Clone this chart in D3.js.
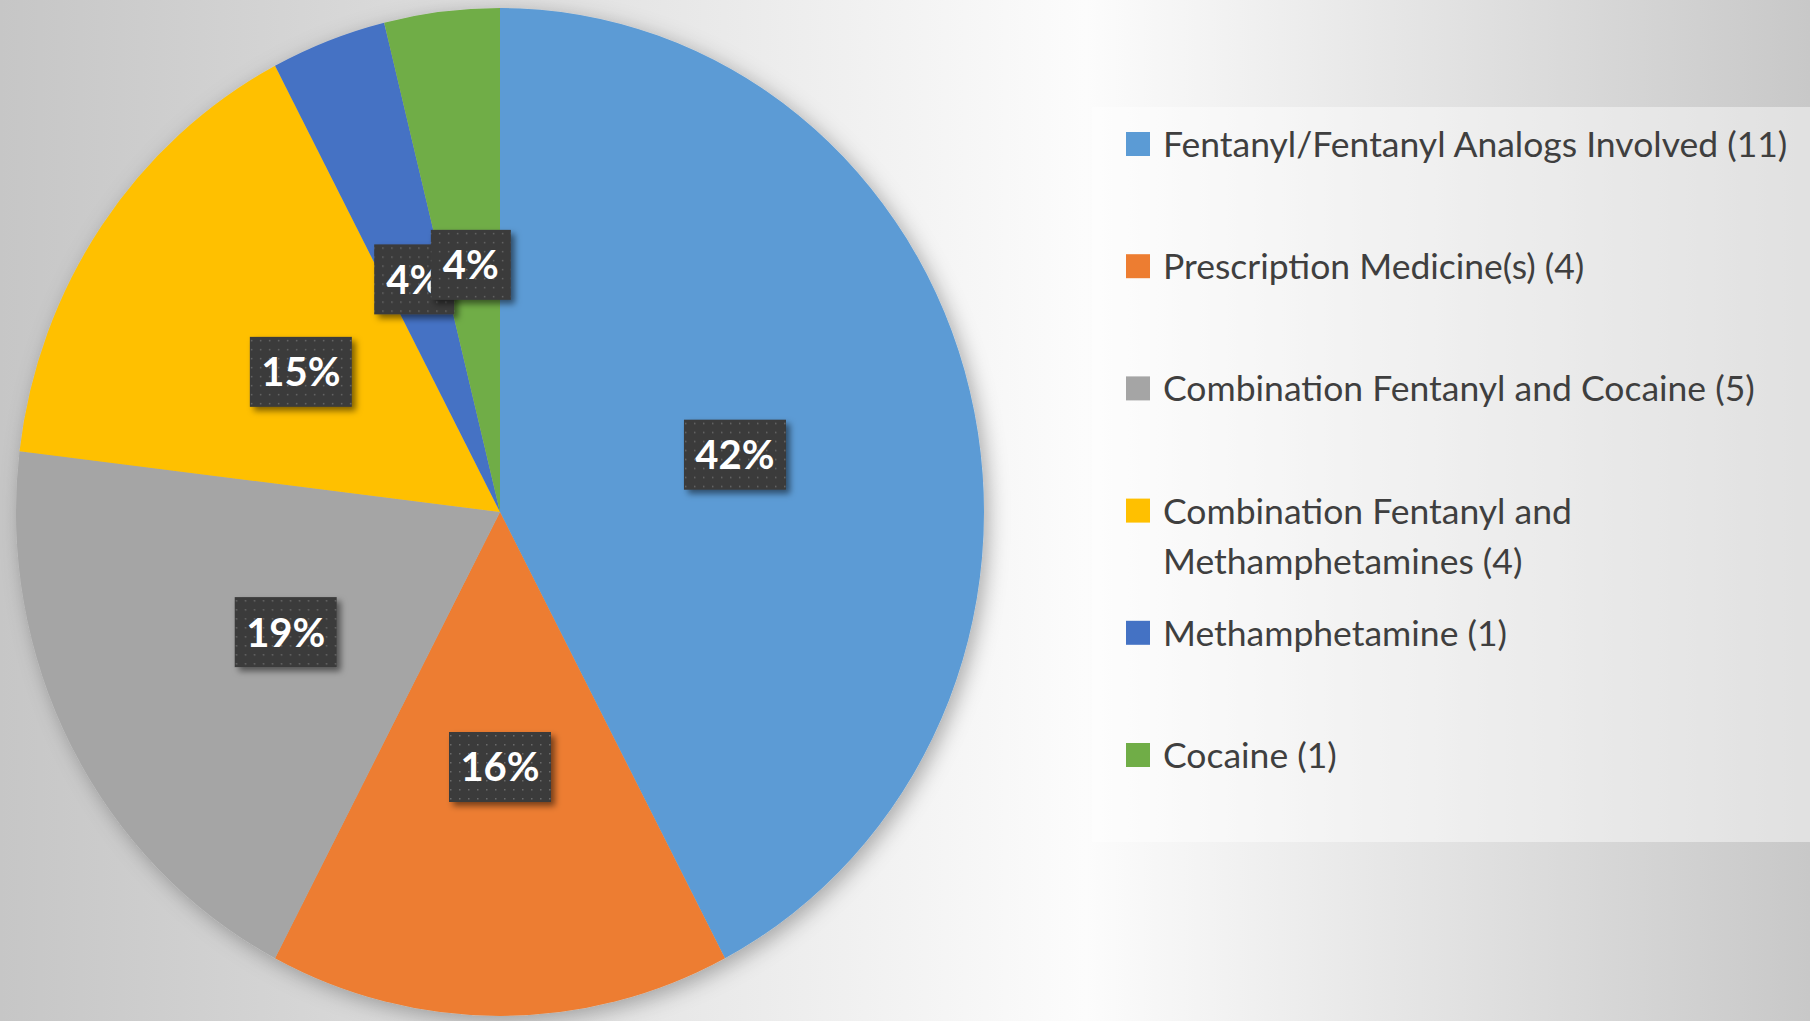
<!DOCTYPE html>
<html>
<head>
<meta charset="utf-8">
<script src="https://cdn.jsdelivr.net/npm/d3@7"></script>
<style>
	html, body	{ margin: 0; padding: 0; overflow: hidden; }
	svg	{ display: block; }
</style>
</head>
<body>
<div id="chart"></div>
<script>

///////////////////////////////////////////////////////////////////////

let categories = [
	"Fentanyl/Fentanyl Analogs Involved (11)",
	"Prescription Medicine(s) (4)",
	"Combination Fentanyl and Cocaine (5)",
	"Combination Fentanyl and Methamphetamines (4)",
	"Methamphetamine (1)",
	"Cocaine (1)"
];
let counts = [ 11, 4, 5, 4, 1, 1 ];
let pct_labels = [ "42%", "16%", "19%", "15%", "4%", "4%" ];
let colors = [ "#5b9bd5", "#ed7d31", "#a5a5a5", "#ffc000", "#4472c4", "#70ad47" ];

///////////////////////////////////////////////////////////////////////

let W = 1810, H = 1021;
let cx = 500, cy = 512, rx = 484, ry = 504;

let svg = d3.select( "#chart" )
	.append( "svg" )
		.attr( "width", W )
		.attr( "height", H );

let defs = svg.append( "defs" );

let bg = defs.append( "linearGradient" )
	.attr( "id", "bg" )
	.attr( "x1", 0 ).attr( "y1", 0 )
	.attr( "x2", 1 ).attr( "y2", 0 );
bg.append( "stop" ).attr( "offset", 0 ).attr( "stop-color", "#c6c6c6" );
bg.append( "stop" ).attr( "offset", 0.6 ).attr( "stop-color", "#fcfcfc" );
bg.append( "stop" ).attr( "offset", 1 ).attr( "stop-color", "#c8c8c8" );

let shadow = defs.append( "filter" )
	.attr( "id", "pie_shadow" )
	.attr( "x", "-20%" ).attr( "y", "-20%" )
	.attr( "width", "140%" ).attr( "height", "140%" );
shadow.append( "feDropShadow" )
	.attr( "dx", 5 ).attr( "dy", 5 )
	.attr( "stdDeviation", 10 )
	.attr( "flood-color", "#000" )
	.attr( "flood-opacity", 0.3 );

let box_shadow = defs.append( "filter" )
	.attr( "id", "box_shadow" )
	.attr( "x", "-30%" ).attr( "y", "-30%" )
	.attr( "width", "160%" ).attr( "height", "160%" );
box_shadow.append( "feDropShadow" )
	.attr( "dx", 4 ).attr( "dy", 4 )
	.attr( "stdDeviation", 3 )
	.attr( "flood-color", "#000" )
	.attr( "flood-opacity", 0.5 );

let dots = defs.append( "pattern" )
	.attr( "id", "dots" )
	.attr( "patternUnits", "userSpaceOnUse" )
	.attr( "width", 9 ).attr( "height", 9 );
dots.append( "rect" )
	.attr( "width", 9 ).attr( "height", 9 )
	.attr( "fill", "#3a3a3a" );
dots.append( "rect" )
	.attr( "x", 4 ).attr( "y", 4 )
	.attr( "width", 1.5 ).attr( "height", 1.5 )
	.attr( "fill", "#6a6a6a" );

svg.append( "rect" )
	.attr( "width", W ).attr( "height", H )
	.attr( "fill", "url(#bg)" );

// legend panel

svg.append( "rect" )
	.attr( "x", 1092 ).attr( "y", 107 )
	.attr( "width", W - 1092 ).attr( "height", 735 )
	.attr( "fill", "#ffffff" )
	.attr( "fill-opacity", 0.45 );

///////////////////////////////////////////////////////////////////////

let pie = d3.pie()
	.sort( null )
	.value( d => d );

let arcs = pie( counts );

let arc = d3.arc()
	.innerRadius( 0 )
	.outerRadius( rx );

let label_arc = d3.arc()
	.innerRadius( rx * 0.5 )
	.outerRadius( rx * 0.5 );

let g = svg.append( "g" )
	.attr( "transform", "translate(" + cx + "," + cy + ")" );

g.append( "g" )
	.attr( "transform", "scale(1," + ( ry / rx ) + ")" )
	.attr( "filter", "url(#pie_shadow)" )
	.selectAll( "path" )
	.data( arcs )
	.join( "path" )
		.attr( "d", arc )
		.attr( "fill", ( d, i ) => colors[ i ] );

let labels = g.append( "g" )
	.selectAll( "g" )
	.data( arcs )
	.join( "g" )
		.attr( "transform", d => {
			let [ x, y ] = label_arc.centroid( d );
			return "translate(" + x + "," + ( y * ry / rx + 3 ) + ")";
		} );

labels.append( "rect" )
	.attr( "x", ( d, i ) => pct_labels[ i ].length > 2 ? -51 : -40 )
	.attr( "y", -35 )
	.attr( "width", ( d, i ) => pct_labels[ i ].length > 2 ? 102 : 80 )
	.attr( "height", 70 )
	.attr( "fill", "url(#dots)" )
	.attr( "filter", "url(#box_shadow)" );

labels.append( "text" )
	.attr( "text-anchor", "middle" )
	.attr( "dy", "0.36em" )
	.attr( "fill", "#ffffff" )
	.style( "font-family", "Lato, 'Open Sans', sans-serif" )
	.style( "font-weight", "700" )
	.style( "font-size", "40px" )
	.text( ( d, i ) => pct_labels[ i ] );

///////////////////////////////////////////////////////////////////////

let legend_x = 1126, legend_y = 132, legend_step = 122.2, wrap_w = 680;

let legend = svg.append( "g" )
	.selectAll( "g" )
	.data( categories )
	.join( "g" )
		.attr( "transform", ( d, i ) => "translate(" + legend_x + "," + ( legend_y + i * legend_step ) + ")" );

legend.append( "rect" )
	.attr( "width", 24 ).attr( "height", 24 )
	.attr( "fill", ( d, i ) => colors[ i ] );

legend.append( "text" )
	.attr( "x", 37 )
	.attr( "y", 25 )
	.attr( "fill", "#3f3f3f" )
	.style( "font-family", "Lato, 'Open Sans', sans-serif" )
	.style( "font-size", "35.5px" )
	.each( function( d )	{

		// word wrap into tspans
		let t = d3.select( this );
		let words = d.split( " " );
		let line = [];
		let ts = t.append( "tspan" ).attr( "x", 37 ).attr( "dy", 0 );
		for( let k=0; k< words.length; k++ )	{
			line.push( words[ k ] );
			ts.text( line.join( " " ) );
			if( ts.node().getComputedTextLength() > wrap_w && line.length > 1 )	{
				line.pop();
				ts.text( line.join( " " ) );
				line = [ words[ k ] ];
				ts = t.append( "tspan" ).attr( "x", 37 ).attr( "dy", 50 ).text( words[ k ] );
			}
		}
	} );

</script>
</body>
</html>
